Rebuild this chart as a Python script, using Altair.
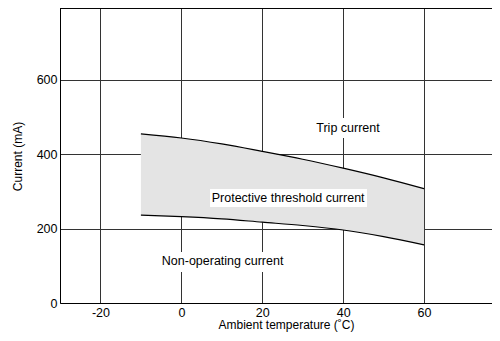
import altair as alt
import pandas as pd

# ---- data ----
temps = [-10, 0, 10, 20, 30, 40, 50, 60]
trip_current = [454, 443, 427, 407, 386, 362, 336, 307]
nonop_current = [236, 232, 226, 217, 208, 196, 178, 156]

x_ticks = [-20, 0, 20, 40, 60]
y_ticks = [0, 200, 400, 600]
X_MIN, X_MAX = -30, 76.8
Y_MIN, Y_MAX = 0, 792

labels = ["Trip current", "Protective threshold current", "Non-operating current"]
label_x = [41.2, 26.4, 10.2]
label_y = [470, 282, 113]
box_x0 = [33.9, 7.1, -5.8]
box_x1 = [50.9, 45.9, 26.2]
box_y0 = [443, 258, 83]
box_y1 = [497, 306, 137]

FONT = "Liberation Sans"
LBL = 12.5
TTL = 12

df = pd.DataFrame({"temp": temps, "upper": trip_current, "lower": nonop_current})
ann = pd.DataFrame({"label": labels, "tx": label_x, "ty": label_y,
                    "bx0": box_x0, "bx1": box_x1, "by0": box_y0, "by1": box_y1})

xscale = alt.Scale(domain=[X_MIN, X_MAX], nice=False, zero=False)
yscale = alt.Scale(domain=[Y_MIN, Y_MAX], nice=False, zero=False)

xaxis = alt.Axis(values=x_ticks, grid=True, gridColor="#333333", gridWidth=1,
                 ticks=False, domainColor="#000000", domainWidth=1,
                 labelFont=FONT, labelFontSize=LBL, labelColor="#000000",
                 labelPadding=3, labelFlush=False,
                 labelExpr="'' + datum.value",
                 title="Ambient temperature (˚C)", titleFont=FONT, titleFontSize=TTL,
                 titleFontWeight="normal", titleColor="#000000",
                 titleX=226, titleY=25.5, titleBaseline="alphabetic", titleAlign="center")
yaxis = alt.Axis(values=y_ticks, grid=True, gridColor="#333333", gridWidth=1,
                 ticks=False, domainColor="#000000", domainWidth=1,
                 labelFont=FONT, labelFontSize=LBL, labelColor="#000000",
                 labelPadding=3, labelFlush=False,
                 labelExpr="'' + datum.value",
                 title="Current (mA)", titleFont=FONT, titleFontSize=TTL,
                 titleFontWeight="normal", titleColor="#000000",
                 titleAngle=270, titleX=-43, titleY=148,
                 titleBaseline="middle", titleAlign="center")

area = alt.Chart(df).mark_area(color="#e4e4e4", interpolate="monotone").encode(
    x=alt.X("temp:Q", scale=xscale, axis=xaxis),
    y=alt.Y("lower:Q", scale=yscale, axis=yaxis),
    y2="upper:Q",
)
upper_line = alt.Chart(df).mark_line(color="#000000", strokeWidth=1.2, interpolate="monotone").encode(
    x="temp:Q", y="upper:Q")
lower_line = alt.Chart(df).mark_line(color="#000000", strokeWidth=1.2, interpolate="monotone").encode(
    x="temp:Q", y="lower:Q")

boxes = alt.Chart(ann).mark_rect(color="#ffffff").encode(
    x="bx0:Q", x2="bx1:Q", y="by0:Q", y2="by1:Q")
texts = alt.Chart(ann).mark_text(font=FONT, fontSize=LBL, color="#000000",
                                 align="center", baseline="middle").encode(
    x="tx:Q", y="ty:Q", text="label:N")

top_rule = alt.Chart(ann).mark_rule(color="#000000", strokeWidth=1.5).encode(
    y=alt.datum(Y_MAX), x=alt.datum(X_MIN), x2=alt.datum(X_MAX))

chart = alt.layer(area, upper_line, lower_line, boxes, texts, top_rule).properties(
    width=432, height=295,
    padding={"left": 52, "top": 0, "right": 0, "bottom": 30},
    autosize=alt.AutoSizeParams(type="none"),
    background="#ffffff",
).configure_view(strokeWidth=0)

chart.save("out.html", embed_options={"renderer": "svg", "actions": False})
